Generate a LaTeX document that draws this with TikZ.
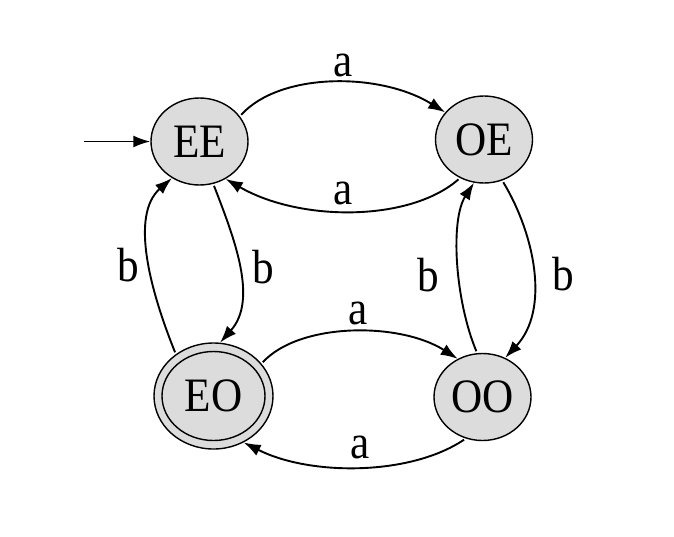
\documentclass[tikz,border=0pt]{standalone}
\usepackage{fontspec}
\setmainfont{Liberation Serif}[FakeStretch=0.9]
\usetikzlibrary{shapes.geometric,arrows.meta}
\definecolor{stategray}{RGB}{220,220,220}
\begin{document}
\begin{tikzpicture}[x=1pt,y=-1pt,
  state/.style={ellipse, draw, line width=1.4pt, fill=stategray, minimum width=97pt, minimum height=87pt, inner sep=0pt, font=\fontsize{48}{50}\selectfont},
  tr/.style={-{Latex[length=17pt,width=12pt]}, line width=1.9pt, shorten <=2pt},
  lab/.style={font=\fontsize{48}{50}\selectfont, inner sep=0pt}]
\useasboundingbox (0,0) rectangle (674,536);
% states
\node[state] (EE) at (199.5,141.5) {EE};
\node[state] (OE) at (484,139.5) {OE};
\node[state, minimum width=119pt, minimum height=106pt] (EO) at (213.5,396) {};
\node[state, minimum width=103pt, minimum height=89pt] (EOin) at (EO.center) {EO};
\node[state] (OO) at (482.5,397) {OO};
% initial arrow
\coordinate (init) at (84,141.5);
\draw[tr, shorten <=0pt] (init) -- (EE.west);
% transitions
\draw[tr] (EE.32) .. controls (280,72) and (380,72) .. (OE.145);
\draw[tr] (OE.-122) .. controls (410,222) and (300,222) .. (EE.-55);
\draw[tr] (EE.-72) .. controls (235,240) and (258,300) .. (EO.83);
\draw[tr] (EO.132) .. controls (150,290) and (130,215) .. (EE.-127);
\draw[tr] (EO.34) .. controls (300,322) and (400,322) .. (OO.123);
\draw[tr] (OO.-112) .. controls (410,476) and (310,476) .. (EO.-57);
\draw[tr] (OO.97) .. controls (455,300) and (450,220) .. (OE.-103);
\draw[tr] (OE.-66) .. controls (535,235) and (550,310) .. (OO.60);
% labels
\node[lab] (l1) at (343,65) {a};
\node[lab] (l2) at (343,193) {a};
\node[lab] (l3) at (128,265) {b};
\node[lab] (l4) at (263,267) {b};
\node[lab] (l5) at (358,313) {a};
\node[lab] (l6) at (360,447) {a};
\node[lab] (l7) at (428,275) {b};
\node[lab] (l8) at (563,274) {b};
\end{tikzpicture}
\end{document}
